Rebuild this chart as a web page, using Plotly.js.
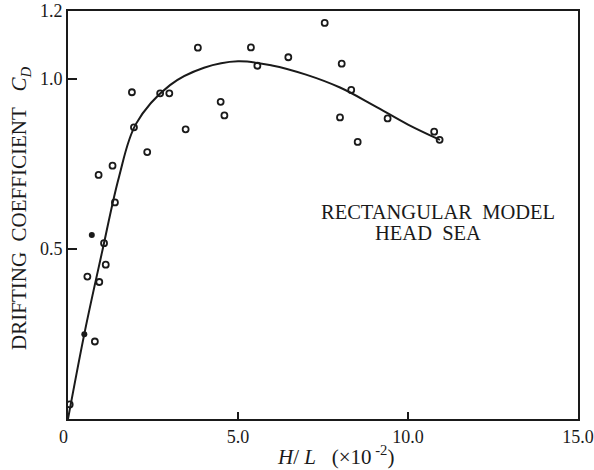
<!DOCTYPE html>
<html>
<head>
<meta charset="utf-8">
<script src="https://cdn.plot.ly/plotly-3.0.1.min.js"></script>
<style>html,body{margin:0;padding:0;background:#fff;}</style>
</head>
<body>
<div id="chart" style="width:594px;height:470px;"></div>
<script>
// Measured data points (H/L x10^-2, C_D) — open circles
const openX = [0.05, 0.57, 0.79, 0.90, 0.92, 1.06, 1.11, 1.31, 1.38, 1.88, 1.94, 2.33, 2.71, 2.98, 3.46, 3.82, 4.49, 4.60, 5.38, 5.57, 6.48, 7.55, 8.00, 8.05, 8.33, 8.52, 9.40, 10.77, 10.93];
const openY = [0.043, 0.419, 0.228, 0.718, 0.403, 0.517, 0.454, 0.745, 0.637, 0.961, 0.858, 0.785, 0.958, 0.958, 0.852, 1.092, 0.933, 0.893, 1.093, 1.039, 1.064, 1.165, 0.887, 1.045, 0.968, 0.815, 0.884, 0.845, 0.821];
// Filled circles
const solidX = [0.48, 0.70];
const solidY = [0.249, 0.541];
// Fitted curve
const curveX = [0, 0.5, 1.0, 1.5, 2.0, 3.0, 4.0, 5.0, 6.0, 7.0, 8.0, 9.0, 10.0, 10.94];
const curveY = [0, 0.26, 0.49, 0.712, 0.868, 0.982, 1.033, 1.052, 1.040, 1.013, 0.975, 0.922, 0.866, 0.821];
// Tick labels
const xTickVals = [0, 5, 10, 15];
const xTickText = ['0\u00A0\u00A0', '5.0', '10.0', '15.0'];
const yTickVals = [0.5, 1.0, 1.2];
const yTickText = ['0.5', '1.0', '1.2'];

const ink = '#1a1a1a';
const serif = '"Liberation Serif", "Times New Roman", Times, serif';

const traces = [
  {x: curveX, y: curveY, type: 'scatter', mode: 'lines',
   line: {color: ink, width: 2, shape: 'spline', smoothing: 1}, hoverinfo: 'skip'},
  {x: openX, y: openY, type: 'scatter', mode: 'markers',
   marker: {symbol: 'circle-open', size: 6, color: ink, line: {width: 1.8, color: ink}}},
  {x: solidX, y: solidY, type: 'scatter', mode: 'markers',
   marker: {symbol: 'circle', size: 6, color: ink}}
];

const layout = {
  width: 594, height: 470,
  margin: {l: 68, r: 16, t: 11, b: 51},
  paper_bgcolor: '#fff', plot_bgcolor: '#fff',
  showlegend: false,
  font: {family: serif, color: ink, size: 18},
  xaxis: {range: [0, 15], tickvals: xTickVals, ticktext: xTickText,
    ticks: 'inside', ticklen: 7, tickwidth: 1.5, tickcolor: ink,
    showline: true, linewidth: 2, linecolor: ink, mirror: true,
    showgrid: false, zeroline: false, tickfont: {size: 18, family: serif}},
  yaxis: {range: [0, 1.2], tickvals: yTickVals, ticktext: yTickText,
    ticks: 'inside', ticklen: 9, tickwidth: 1.5, tickcolor: ink,
    showline: true, linewidth: 2, linecolor: ink, mirror: true,
    showgrid: false, zeroline: false, tickfont: {size: 18, family: serif}},
  annotations: [
    {xref: 'paper', yref: 'paper', x: 0, y: 0.515, xshift: -48, textangle: -90,
     xanchor: 'center', yanchor: 'middle', showarrow: false,
     text: 'DRIFTING\u00A0\u00A0COEFFICIENT\u00A0\u00A0\u00A0<i>C</i><sub><i>D</i></sub>',
     font: {size: 21, family: serif, color: ink}},
    {xref: 'paper', yref: 'paper', x: 0.525, y: 0, yshift: -36,
     xanchor: 'center', yanchor: 'middle', showarrow: false,
     text: '<i>H</i>/\u00A0<i>L</i>\u00A0\u00A0\u00A0(\u00D710<sup>\u00A0-2</sup>)',
     font: {size: 21, family: serif, color: ink}},
    {xref: 'paper', yref: 'paper', x: (438 - 68) / 510, y: (419 - 212) / 408,
     xanchor: 'center', yanchor: 'middle', showarrow: false,
     text: 'RECTANGULAR\u00A0\u00A0MODEL',
     font: {size: 20.5, family: serif, color: ink}},
    {xref: 'paper', yref: 'paper', x: (428 - 68) / 510, y: (419 - 233) / 408,
     xanchor: 'center', yanchor: 'middle', showarrow: false,
     text: 'HEAD\u00A0\u00A0SEA',
     font: {size: 20.5, family: serif, color: ink}}
  ]
};

Plotly.newPlot('chart', traces, layout, {displayModeBar: false, staticPlot: true});
</script>
</body>
</html>
